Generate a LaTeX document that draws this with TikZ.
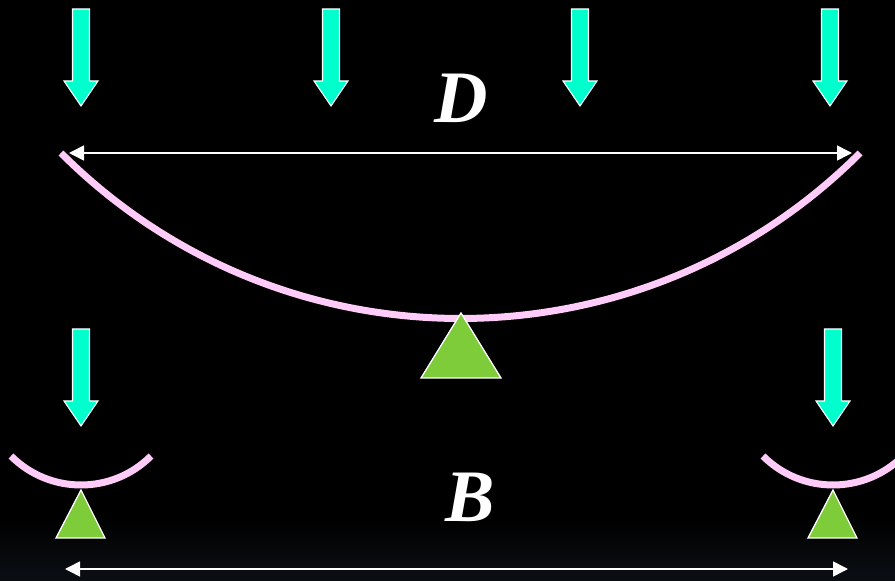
\documentclass[tikz,border=0pt]{standalone}
\usepackage{fontspec}
\setmainfont{Liberation Serif}
\usetikzlibrary{arrows.meta}
\definecolor{turq}{HTML}{00FFCC}
\definecolor{beampink}{HTML}{FFCCFA}
\definecolor{suppgreen}{HTML}{7FCC3A}
\definecolor{bottomgrey}{HTML}{0B0F14}
\tikzset{
  loadarrow/.style={fill=turq, draw=white, line width=1.1pt, line join=miter},
  beam/.style={draw=beampink, line width=7pt},
  support/.style={fill=suppgreen, draw=white, line width=1.3pt, line join=miter},
  dimline/.style={draw=white, line width=1.6pt, {Triangle[length=15pt,width=15pt]}-{Triangle[length=15pt,width=15pt]}},
  biglabel/.style={text=white, font=\fontsize{74}{74}\selectfont\bfseries\itshape, inner sep=0pt}
}
\newcommand{\loadarr}[2]{% #1 = centre x, #2 = top y (y up)
  \path[loadarrow] (#1-8.5,#2) -- (#1+8.5,#2) -- (#1+8.5,#2-72) -- (#1+17,#2-72)
    -- (#1,#2-97) -- (#1-17,#2-72) -- (#1-8.5,#2-72) -- cycle;}
\begin{document}
\begin{tikzpicture}[x=1pt,y=1pt]
\useasboundingbox (0,0) rectangle (895,581);
\clip (0,0) rectangle (895,581);
\fill[black] (0,0) rectangle (895,581);
\shade[bottom color=bottomgrey, top color=black] (0,0) rectangle (895,62);
% load arrows top
\loadarr{81}{572}
\loadarr{331}{572}
\loadarr{580}{572}
\loadarr{830}{572}
% big beam
\draw[beam] (61,428) arc[start angle=225, end angle=315, radius=565pt];
% big support
\path[support] (461,268) -- (501,203) -- (421,203) -- cycle;
% dimension D
\coordinate (dl) at (69,428);
\coordinate (dr) at (852,428);
\draw[dimline] (dl) -- (dr);
\node[biglabel] (D) at (461,483) {D};
% bottom load arrows
\loadarr{81}{252}
\loadarr{833}{252}
% small beams
\draw[beam] (81,195) ++(225:99pt) arc[start angle=225, end angle=315, radius=99pt];
\draw[beam] (833,195) ++(225:99pt) arc[start angle=225, end angle=315, radius=99pt];
% small supports
\path[support] (81,91) -- (105,43) -- (56,43) -- cycle;
\path[support] (833,91) -- (857,43) -- (808,43) -- cycle;
% dimension B
\coordinate (bl) at (65,12);
\coordinate (br) at (848,12);
\draw[dimline] (bl) -- (br);
\node[biglabel] (B) at (470,84) {B};
\end{tikzpicture}
\end{document}
